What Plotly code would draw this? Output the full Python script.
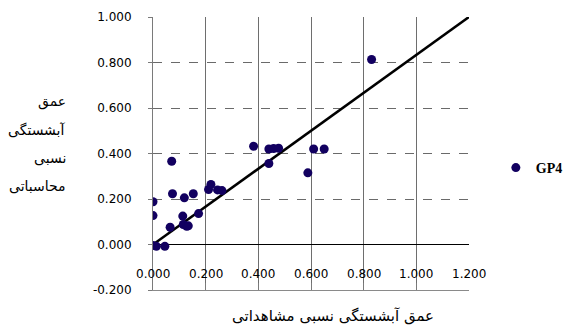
import plotly.graph_objects as go

# Observed vs. computed relative scour depth, series GP4
observed = [0.000, 0.013, 0.045, 0.000, 0.000, 0.065, 0.115, 0.128, 0.134,
            0.113, 0.173, 0.071, 0.074, 0.119, 0.153, 0.211, 0.220, 0.245,
            0.262, 0.382, 0.440, 0.440, 0.458, 0.477, 0.588, 0.610, 0.650,
            0.830]
computed = [-0.004, -0.008, -0.008, 0.188, 0.127, 0.076, 0.088, 0.080, 0.082,
            0.125, 0.136, 0.366, 0.223, 0.205, 0.223, 0.242, 0.264, 0.240,
            0.237, 0.432, 0.356, 0.420, 0.422, 0.423, 0.315, 0.420, 0.420,
            0.813]

# Reference line end points
line_x = [0.0, 1.2]
line_y = [0.0, 1.0]

x_ticks = [0.0, 0.2, 0.4, 0.6, 0.8, 1.0, 1.2]
x_tick_labels = ["0.000", "0.200", "0.400", "0.600", "0.800", "1.000", "1.200"]
y_ticks = [-0.2, 0.0, 0.2, 0.4, 0.6, 0.8, 1.0]
y_tick_labels = ["-0.200", "0.000", "0.200", "0.400", "0.600", "0.800", "1.000"]

series_name = "GP4"
x_title = "عمق آبشستگی نسبی مشاهداتی"
y_title_lines = ["عمق", "آبشستگی", "نسبی", "محاسباتی"]

fig = go.Figure()
fig.add_trace(go.Scatter(
    x=line_x, y=line_y, mode="lines",
    line=dict(color="black", width=2.6),
    showlegend=False, hoverinfo="skip",
))
fig.add_trace(go.Scatter(
    x=observed, y=computed, mode="markers", name="<b>" + series_name + "</b>",
    marker=dict(color="#120060", size=9, line=dict(width=0)),
))

tick_font = dict(family="DejaVu Sans", size=12, color="black")

fig.update_layout(
    width=570, height=327,
    margin=dict(l=153, r=101, t=17, b=37, autoexpand=False),
    paper_bgcolor="white", plot_bgcolor="white",
    showlegend=True,
    legend=dict(
        x=1.085, y=0.447, xanchor="left", yanchor="middle",
        font=dict(family="Liberation Serif", size=14, color="black"),
        itemwidth=30, bgcolor="rgba(0,0,0,0)",
    ),
    xaxis=dict(
        range=[0, 1.2], tickvals=x_ticks,
        showgrid=True, gridcolor="#6e6e6e", gridwidth=1,
        zeroline=False,
        showline=True, linecolor="#8a8a8a", linewidth=1,
        ticks="inside", ticklen=7, tickcolor="#7a7a7a",
        showticklabels=False,
    ),
    yaxis=dict(
        range=[-0.2, 1.0], tickvals=y_ticks, ticktext=y_tick_labels,
        showgrid=True, gridcolor="#6a6a6a", gridwidth=1, griddash="dash",
        zeroline=True, zerolinecolor="black", zerolinewidth=1,
        showline=True, linecolor="#7a7a7a", linewidth=1,
        ticks="outside", ticklen=4, tickcolor="#7a7a7a",
        ticklabelstandoff=14,
        tickfont=tick_font,
    ),
)

annotations = []
# x tick labels sit just above the bottom axis line
for xv, lab in zip(x_ticks, x_tick_labels):
    annotations.append(dict(
        text=lab, x=xv, y=-0.13, xref="x", yref="y",
        xanchor="center", yanchor="middle", showarrow=False,
        font=tick_font,
    ))
for i, txt in enumerate(y_title_lines):
    annotations.append(dict(
        text=txt, xref="paper", yref="paper",
        x=-0.269, y=0.689 - i * 0.1025, xanchor="right", yanchor="middle",
        showarrow=False,
        font=dict(family="DejaVu Sans", size=14, color="black"),
    ))
annotations.append(dict(
    text=x_title, xref="paper", yref="paper",
    x=0.57, y=-0.095, xanchor="center", yanchor="middle", showarrow=False,
    font=dict(family="DejaVu Sans", size=15, color="black"),
))
fig.update_layout(annotations=annotations)

fig.write_html("out.html")
